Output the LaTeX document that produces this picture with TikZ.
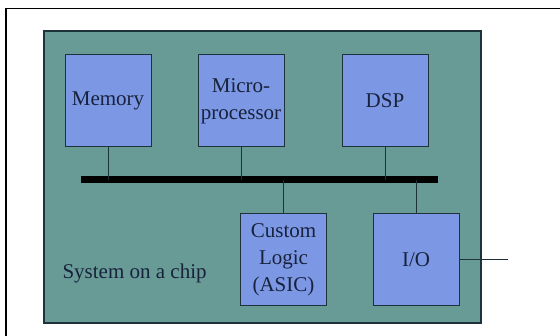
\documentclass[tikz,border=0pt]{standalone}
\usepackage{fontspec}
\setmainfont{Liberation Serif}
\usepackage{tikz}
\usetikzlibrary{positioning,calc}
\definecolor{chipc}{RGB}{104,154,150}
\definecolor{blockc}{RGB}{124,152,228}
\definecolor{inkc}{RGB}{24,34,60}
\definecolor{edgec}{RGB}{30,50,60}

\begin{document}
\begin{tikzpicture}[
  x=1pt,y=-1pt,
  chipbox/.style={draw=edgec,fill=chipc,line width=1.4pt,minimum width=437pt,minimum height=292pt,inner sep=0pt},
  blk/.style={draw=edgec,fill=blockc,line width=1pt,minimum width=86pt,minimum height=92pt,inner sep=0pt,
    align=center,text=inkc,font=\fontsize{21}{27}\selectfont},
  tap/.style={draw=edgec,line width=1pt},
  busline/.style={line width=7pt}
]
\useasboundingbox (0,0) rectangle (560,336);
% page frame
\draw[line width=1pt] (6,8.5) -- (560,8.5);
\draw[line width=2pt] (6,8) -- (6,336);
% chip and its blocks
\node[chipbox] (chip) at (262.5,177) {};
\node[blk] (mem) at (108,101) {Memory};
\node[blk] (mpu) at (241,101) {Micro-\\processor};
\node[blk] (dsp) at (385,101) {DSP};
\node[blk] (asic) at (283.5,260) {Custom\\Logic\\(ASIC)};
\node[blk] (io) at (416,260) {I/O};
\node[anchor=west,text=inkc,font=\fontsize{21}{25}\selectfont] (lbl) at (59,273) {System on a chip};
% bus
\coordinate (busL) at (81,180);
\coordinate (busR) at (438,180);
\draw[busline] (busL) -- (busR);
\draw[tap] (mem.south) -- (mem.south |- busL);
\draw[tap] (mpu.south) -- (mpu.south |- busL);
\draw[tap] (dsp.south) -- (dsp.south |- busL);
\draw[tap] (asic.north) -- (asic.north |- busL);
\draw[tap] (io.north) -- (io.north |- busL);
\coordinate (ext) at (508,260);
\draw[tap] (io.east) -- (ext);
\end{tikzpicture}
\end{document}
